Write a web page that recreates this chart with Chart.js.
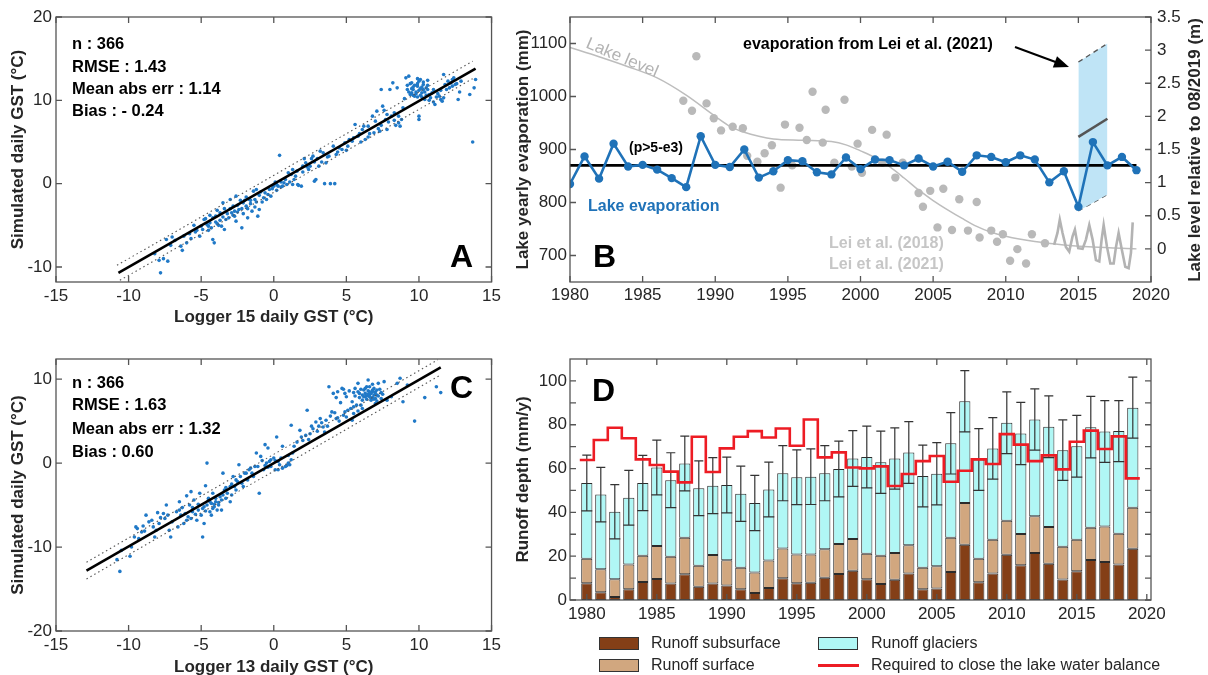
<!DOCTYPE html>
<html>
<head>
<meta charset="utf-8">
<script src="https://cdn.jsdelivr.net/npm/chart.js@4.4.1/dist/chart.umd.min.js"></script>
<style>
  body { margin: 0; background: #fff; width: 1208px; height: 675px; overflow: hidden; position: relative;
         font-family: "Liberation Sans", Arial, sans-serif; color: #262626; }
  canvas { position: absolute; }
  .box { position: absolute; width: 38px; height: 11px; border: 1.5px solid #333; }
  .lab { position: absolute; font-size: 16px; line-height: 20px; white-space: nowrap; }
</style>
</head>
<body>
<canvas id="cA" width="505" height="335" style="left:0;top:0"></canvas>
<canvas id="cB" width="703" height="335" style="left:505px;top:0"></canvas>
<canvas id="cC" width="505" height="345" style="left:0;top:335px"></canvas>
<canvas id="cD" width="703" height="340" style="left:505px;top:335px"></canvas>

<div class="box" style="left:599px;top:637px;background:#843f17"></div>
<div class="lab" style="left:651px;top:633px">Runoff subsurface</div>
<div class="box" style="left:599px;top:659px;background:#d1a77f"></div>
<div class="lab" style="left:651px;top:655px">Runoff surface</div>
<div class="box" style="left:818px;top:637px;background:#b0f7f5"></div>
<div class="lab" style="left:871px;top:633px">Runoff glaciers</div>
<div style="position:absolute;left:818px;top:664px;width:41px;height:3px;background:#ed1c24"></div>
<div class="lab" style="left:871px;top:655px">Required to close the lake water balance</div>

<script>
// ---------- panels A and C : daily ground surface temperature ----------
const gstTicksX = [-15, -10, -5, 0, 5, 10, 15];
const gstTicksA = [-10, 0, 10, 20];
const gstTicksC = [-20, -10, 0, 10];

// [logger, simulated] pairs
const pointsA = [
  [-8.2,-8.4],[-7.9,-9.2],[-7.6,-9.0],[-7.3,-9.3],[-7.8,-10.7],[-7.4,-6.7],[-7.1,-7.4],[-6.4,-7.5],[-6.3,-8.0],
  [-6.0,-7.1],[-5.7,-6.6],[-5.4,-5.8],[-5.1,-6.3],[-4.9,-5.5],[-4.8,-4.3],[-4.5,-5.1],[-4.4,-4.7],[-4.2,-6.7],
  [-4.1,-7.1],[-4.0,-3.9],[-3.7,-3.5],[-3.6,-5.1],[-3.5,-2.3],[-3.3,-4.3],[-3.0,-1.9],[-2.9,-3.5],[-2.8,-2.7],
  [-2.7,-3.9],[-2.6,-1.5],[-2.4,-3.1],[-2.2,-5.3],[-2.1,-2.3],[-1.9,-2.7],[-1.8,-4.1],[-1.7,-1.9],[-1.5,-3.3],
  [-1.4,-0.9],[-1.3,-1.9],[-1.2,-0.7],[-1.1,-3.9],[-1.0,-3.1],[-0.7,-1.7],[-0.6,-1.1],[-0.5,-1.9],[-0.4,-1.3],
  [-0.3,-0.7],[-0.2,-1.5],[0.0,-0.3],[0.2,-0.1],[0.3,-0.3],[0.4,3.4],[0.5,0.2],[0.6,-0.3],[0.8,0.5],[0.9,-0.1],
  [1.1,0.2],[1.2,1.1],[1.3,1.7],[1.5,0.9],[1.7,-0.2],[1.9,-0.3],[2.0,2.1],[2.1,3.0],[2.2,2.5],[2.4,1.7],[2.5,2.1],
  [2.7,3.3],[2.8,0.3],[2.9,0.5],[3.1,2.1],[3.2,3.9],[3.4,3.7],[3.5,0.0],[3.9,0.0],[4.2,0.0],[1.3,-0.1],[1.65,-0.1],
  [3.8,3.3],[4.1,4.5],[4.3,3.5],[4.7,4.1],[4.9,4.9],[5.1,4.5],[5.4,5.1],[5.6,7.1],[5.8,5.7],[6.1,6.5],[6.3,5.3],
  [6.5,6.9],[6.8,8.1],[6.9,6.1],[7.1,8.7],[7.3,6.3],[7.4,11.3],[7.5,9.3],[7.7,7.7],[7.8,8.3],[8.0,11.3],[8.1,8.1],
  [8.2,12.1],[8.5,11.5],[8.6,7.3],[8.7,6.9],[8.8,7.7],[8.9,9.1],[9.1,12.7],[9.2,11.3],[9.3,12.9],[9.4,10.7],
  [9.5,12.1],[9.6,11.3],[9.7,10.5],[9.9,11.7],[10.0,8.1],[10.0,7.7],[10.1,12.5],[10.2,10.9],[10.3,11.9],[10.4,10.1],
  [10.6,11.3],[10.7,10.7],[10.8,10.3],[11.0,11.3],[11.1,9.5],[11.4,10.5],[11.5,10.1],[11.6,9.9],[11.7,13.1],
  [11.9,11.3],[12.2,12.1],[12.3,11.7],[12.4,12.7],[12.5,11.9],[12.7,10.1],[12.9,12.3],[13.5,10.7],[13.8,11.5],
  [13.9,12.5],[13.7,5.0],
  [9.3,11.0],[9.5,11.4],[9.6,10.6],[9.8,11.0],[9.9,12.0],[10.0,11.2],[10.1,10.6],[10.2,11.6],[10.3,12.2],[10.4,11.0],
  [10.5,10.6],[9.7,11.8],[9.4,12.0],[10.6,11.8],[10.9,10.9],[11.2,10.4],[11.3,10.8],[11.8,11.9],[12.0,12.3],
  [12.6,12.0],[12.8,11.0],[9.0,10.2],[9.9,10.4],[10.7,10.0],[11.0,9.8],
  [-4.6,-4.9],[-4.3,-5.3],[-4.0,-4.6],[-3.8,-5.0],[-3.5,-4.0],[-3.2,-3.6],[-3.0,-3.0],[-2.7,-3.3],[-2.5,-2.6],
  [-2.2,-3.0],[-2.0,-2.0],[-1.8,-3.0],[-1.6,-2.4],[-1.3,-2.8],[-3.9,-3.2],[-4.4,-3.8],[-5.0,-5.1],[-5.3,-5.6],
  [-3.4,-5.5],[-2.6,-4.5],[-1.0,-1.4],[-0.8,-2.2],[-0.1,-0.6],[0.2,-0.8],[0.5,-0.4],
  [5.0,4.0],[5.5,5.5],[6.0,5.0],[6.2,6.9],[6.6,6.0],[7.0,7.5],[7.2,6.6],[7.6,8.8],[7.9,7.4],[8.3,8.5],[8.4,7.0],
  [8.6,8.1],[1.0,1.3],[1.6,1.5],[2.3,2.0],[2.6,3.0],[3.0,3.0],[3.3,2.6],[3.7,3.2],[4.5,4.3],
  [-4.7,-4.2],[-4.5,-5.6],[-4.2,-4.1],[-3.9,-4.8],[-3.7,-4.4],[-3.4,-3.0],[-3.1,-4.1],[-2.8,-3.8],[-2.5,-3.4],
  [-2.3,-2.0],[-2.1,-3.6],[-1.9,-1.6],[-1.6,-2.0],[-1.2,-2.2],[-0.9,-1.0],[-5.5,-5.0],[-5.8,-6.0],[-6.2,-6.3],
  [-6.8,-6.8],[-7.0,-6.4],
  [9.6,11.6],[9.8,10.8],[10.0,12.3],[10.1,11.4],[10.2,10.4],[10.3,11.3],[10.5,11.5],[9.5,10.9],[9.2,11.8],
  [9.9,12.6],[10.6,12.4],[11.5,11.2],[12.1,11.5],[12.3,12.5],[11.7,10.3],
  [7.4,7.0],[7.8,6.5],[8.3,7.6],[6.5,5.6],[5.9,6.0],[5.2,5.3],[4.4,3.8],[3.6,2.5],[2.8,2.6],[2.0,1.4],[1.4,0.5],
  [0.7,0.1],[0.1,0.2]
];
const fitA = [[-10.7, -10.7], [13.9, 13.8]];
const dotUpA = [[-10.8, -9.8], [13.7, 14.7]];
const dotLoA = [[-10.6, -11.6], [13.7, 12.6]];

// [logger, simulated] pairs
const pointsC = [
  [-10.8,-11.5],[-10.6,-12.9],[-10.5,-10.4],[-9.9,-11.1],[-9.8,-10.0],[-9.6,-8.8],[-9.5,-7.6],[-9.4,-7.8],[-9.1,-8.2],
  [-8.8,-6.2],[-8.6,-7.0],[-8.3,-7.6],[-8.2,-8.8],[-8.1,-8.0],[-7.9,-7.2],[-7.6,-6.0],[-7.4,-5.0],[-7.3,-6.2],
  [-7.2,-8.0],[-7.1,-8.8],[-7.0,-7.0],[-6.7,-5.8],[-6.6,-7.6],[-6.5,-4.6],[-6.4,-6.2],[-6.2,-7.2],[-6.0,-3.9],
  [-5.9,-6.4],[-5.8,-5.0],[-5.7,-3.4],[-5.6,-5.8],[-5.5,-4.4],[-5.3,-6.8],[-5.2,-5.6],[-5.1,-3.6],[-5.0,-6.2],
  [-4.9,-8.8],[-4.8,-7.2],[-4.8,-5.2],[-4.7,-2.7],[-4.6,0.0],[-4.5,-4.4],[-4.4,-5.8],[-4.3,-4.8],[-4.2,-3.6],
  [-4.1,-5.2],[-4.0,-4.6],[-3.8,-5.0],[-3.7,-4.0],[-3.6,-5.6],[-3.5,-1.2],[-3.4,-3.2],[-3.3,-4.2],[-3.0,-2.8],
  [-2.9,-3.8],[-2.8,-1.6],[-2.7,-2.8],[-2.5,-2.2],[-2.4,-0.2],[-2.3,-1.6],[-2.1,-2.8],[-2.0,-1.2],[-1.8,-2.0],
  [-1.7,-0.8],[-1.5,-1.2],[-1.3,-0.4],[-1.2,1.2],[-1.0,-3.6],[-0.9,0.8],[-0.7,-0.8],[-0.6,2.2],[-0.5,0.0],
  [-0.4,1.8],[-0.3,0.2],[-0.2,-0.4],[0.0,0.6],[0.1,-0.8],[0.2,3.1],[0.3,0.2],[0.4,-0.2],[0.6,2.0],[0.8,-0.4],
  [1.0,0.0],[1.1,-0.2],[1.2,4.5],[1.3,1.2],[1.6,2.5],[1.8,3.9],[2.0,2.7],[2.3,6.3],[2.5,3.5],[2.7,4.1],[2.9,4.9],
  [3.2,5.3],[3.4,4.3],[3.6,5.1],[3.8,9.1],[4.0,6.1],[4.1,8.3],[4.3,5.3],[4.4,8.5],[4.7,8.9],[4.8,5.7],[5.0,7.9],
  [5.1,6.3],[5.4,7.3],[5.5,5.9],[5.6,8.9],[5.7,6.9],[5.8,9.5],[5.9,8.3],[6.1,7.5],[6.2,8.7],[6.3,7.9],[6.4,9.1],
  [6.5,9.9],[6.6,8.1],[6.7,7.7],[6.8,8.5],[6.9,8.9],[7.0,7.1],[7.1,8.1],[7.2,9.5],[7.4,7.7],[7.6,9.7],[7.8,7.5],
  [8.1,7.9],[8.5,9.5],[8.7,10.1],[8.9,7.3],[9.2,9.3],[9.7,5.0],[10.4,7.8],[11.2,9.1],[11.5,8.4],
  [6.3,8.3],[6.4,7.6],[6.5,8.6],[6.6,7.9],[6.7,8.3],[6.8,7.8],[6.9,8.1],[7.0,8.5],[7.1,7.4],[7.2,8.0],[6.6,9.1],
  [6.2,7.9],[7.3,8.8],[7.5,8.2],[6.0,8.8],[5.9,7.8],[6.8,9.4],[7.0,7.7],[5.6,8.0],[5.2,8.6],[4.9,8.3],[4.3,7.8],
  [4.6,7.2],[5.3,6.5],
  [-4.9,-5.4],[-4.6,-5.0],[-4.4,-4.6],[-4.2,-5.4],[-4.0,-4.2],[-3.9,-5.6],[-3.6,-4.4],[-3.2,-3.6],[-5.4,-6.1],
  [-5.7,-6.6],[-6.1,-6.0],[-6.3,-5.3],[-3.0,-4.6],[-2.6,-2.0],[-2.2,-2.4],[-1.9,-1.2],[-1.4,-1.6],[-1.1,-0.4],
  [-0.2,0.4],[0.5,0.6],[0.9,-0.3],[1.2,0.4],[0.3,-0.8],[-0.6,-0.3],[-7.8,-6.5],[-8.4,-6.8],[-9.0,-7.5],
  [1.4,2.0],[1.9,3.1],[2.2,3.3],[2.6,4.4],[3.0,3.8],[3.3,4.8],[3.7,4.4],[3.9,5.6],[4.2,6.0],[4.5,5.0],[5.0,5.5],
  [5.4,5.1],[5.8,6.2],[6.1,6.5],
  [6.4,8.0],[6.5,8.2],[6.7,7.5],[6.8,8.7],[6.9,7.6],[7.0,8.2],[6.6,8.5],[7.1,8.7],[6.3,8.9],[7.4,8.4],[6.1,8.1],
  [5.8,8.5],[5.5,8.4],[4.8,8.8],
  [-5.2,-4.9],[-4.7,-5.7],[-4.5,-4.2],[-4.3,-6.2],[-4.1,-4.9],[-3.8,-4.7],[-3.5,-3.8],[-3.3,-2.9],[-2.9,-2.5],
  [-2.6,-3.2],[-5.6,-5.3],[-6.0,-6.8],[-6.5,-5.6],[-7.5,-6.6],[-8.0,-5.9],[-8.9,-8.1],[-9.3,-9.0],
  [-1.6,-0.6],[-0.8,0.3],[-0.4,-0.5],[0.1,0.3],[0.6,-0.6],[1.0,0.9],[2.4,2.8],[3.1,4.4],[3.5,3.7],[4.4,5.4],
  [4.9,6.1],[5.5,6.7],[6.0,6.9]
];
const fitC = [[-12.9, -12.8], [11.5, 11.4]];
const dotUpC = [[-12.9, -11.8], [11.3, 12.3]];
const dotLoC = [[-12.9, -13.8], [11.4, 10.4]];

// ---------- panel B : lake evaporation and lake level ----------
const yearTicks = [1980, 1985, 1990, 1995, 2000, 2005, 2010, 2015, 2020];
const evapTicks = [700, 800, 900, 1000, 1100];
const levelTicks = [0, 0.5, 1, 1.5, 2, 2.5, 3, 3.5];
const evapYears = [1980,1981,1982,1983,1984,1985,1986,1987,1988,1989,1990,1991,1992,1993,1994,1995,1996,1997,1998,1999,
                   2000,2001,2002,2003,2004,2005,2006,2007,2008,2009,2010,2011,2012,2013,2014,2015,2016,2017,2018,2019];
const lakeEvap = [835,887,845,911,868,871,862,846,829,925,871,867,900,847,859,880,878,857,853,885,
                  863,881,880,870,883,868,877,858,889,886,876,889,881,838,859,792,914,870,886,861];
const evapMean = 870;
const levelYears = [1980,1982,1984,1986,1988,1990,1991,1992,1993,1994,1996,1998,1999,2000,2001,2002,2003,2004,2005,
                    2006,2007,2008,2009,2010,2012,2014,2016,2019];
const lakeLevel = [3.04,2.90,2.75,2.58,2.32,2.00,1.85,1.76,1.70,1.66,1.64,1.62,1.57,1.48,1.38,1.24,1.07,0.89,0.73,
                   0.59,0.46,0.34,0.25,0.19,0.11,0.06,0.03,0.00];
// Lei et al. (2018) evaporation dots [year, mm]
const lei2018 = [[1987.8,992],[1988.4,973],[1988.7,1076],[1989.4,987],[1989.9,959],[1990.4,936],[1991.2,943],[1991.9,940],
  [1992.2,888],[1992.9,877],[1993.4,893],[1993.9,908],[1994.5,828],[1994.8,947],[1995.3,870],[1995.8,941],[1996.3,918],
  [1996.7,1009],[1997.4,913],[1997.6,975],[1998.2,875],[1998.9,994],[1999.4,868],[1999.8,911],[2000.1,856],[2000.8,937],
  [2001.5,875],[2001.8,928],[2002.4,847],[2002.9,875],[2004.0,818],[2004.3,792],[2004.8,822],[2005.3,753],[2005.7,826],
  [2006.3,748],[2006.8,806],[2007.4,747],[2008.0,801],[2008.2,734],[2009.0,747],[2009.4,726],[2009.8,740],[2010.3,690],
  [2010.8,712],[2011.4,685],[2011.8,740],[2012.7,723]];
// Lei et al. (2021) lake level [year, m]
const lei2021 = [[2013.33,0.06],[2013.56,0.24],[2013.72,0.44],[2013.91,0.24],[2014.14,0.03],[2014.37,-0.04],[2014.6,0.19],
  [2014.76,0.29],[2014.99,0.01],[2015.29,0.0],[2015.52,0.14],[2015.75,0.36],[2015.98,0.14],[2016.21,-0.17],[2016.44,-0.19],
  [2016.6,0.14],[2016.74,0.36],[2016.97,0.03],[2017.2,-0.22],[2017.43,-0.22],[2017.59,0.03],[2017.77,0.24],[2018.0,-0.02],
  [2018.23,-0.27],[2018.46,-0.29],[2018.62,-0.06],[2018.74,0.40]];
// evaporation from Lei et al. (2021), mm
const bandYears = [2015, 2017];
const bandTop = [1065, 1100];
const bandMid = [924, 958];
const bandLow = [784, 815];

// ---------- panel D : runoff ----------
const runoffTicks = [0, 20, 40, 60, 80, 100];
const runoffMinor = [0, 10, 20, 30, 40, 50, 60, 70, 80, 90, 100];
const runoffYears = evapYears;
const runoffSub  = [7.6,3.5,1.4,4.9,8.2,9.6,7.5,11.8,6.1,7.5,6.6,4.9,3.2,5.5,9.9,7.6,7.9,10.1,11.9,13.4,
                    9.5,7.3,9.2,12.1,4.9,5.3,12.8,25.2,8.1,12.1,20.6,15.9,21.5,16.5,9.3,13.1,18.3,17.4,16.2,23.4];
const runoffSurf = [11.2,10.5,8.1,11.3,12.0,15.1,12.2,16.6,9.5,13.0,11.6,9.8,9.3,12.5,13.6,13.2,12.9,13.1,13.7,14.4,
                    11.6,12.9,12.3,12.9,9.8,10.1,15.6,19.1,10.7,15.4,15.6,14.2,16.7,16.8,15.0,14.4,14.7,16.2,14.0,18.7];
const runoffGlac = [34.6,34.1,30.8,30.5,33.2,35.8,35.0,33.9,35.4,31.7,34.3,33.8,31.8,32.4,34.4,35.2,35.5,34.7,34.2,36.8,
                    44.2,42.7,43.1,42.3,41.9,42.2,43.1,46.4,45.3,41.7,44.7,45.9,44.2,45.8,44.1,42.7,45.9,43.3,46.9,45.7];
const runoffErr  = [12.7,12.4,12.4,12.5,12.6,12.5,12.5,12.5,12.5,12.8,12.7,12.6,12.6,12.5,12.6,12.5,12.7,12.6,12.7,12.7,
                    14.1,14.2,14.0,14.1,14.1,14.2,14.0,14.0,14.1,14.0,14.1,14.2,14.0,14.1,13.8,14.1,14.0,14.1,13.9,13.9];
const requiredBalance = [63.9,73.0,78.6,73.8,64.2,61.6,58.6,53.7,74.5,58.4,69.2,74.5,77.1,74.2,78.3,70.4,82.4,65.1,67.4,60.5,
                         60.1,61.0,52.0,57.5,63.4,65.7,54.0,59.0,64.2,62.1,75.7,70.9,63.4,66.0,59.6,72.2,77.3,68.9,74.7,55.5];

// ---------- helpers ----------
Chart.defaults.font.family = '"Liberation Sans", Arial, sans-serif';
Chart.defaults.font.size = 17;
Chart.defaults.color = '#262626';

const xy = arr => arr.map(p => ({ x: p[0], y: p[1] }));
const fixedTicks = list => s => { s.ticks = list.map(v => ({ value: v })); };
const plain = v => String(v);

function framePlugin(cfg) {
  return {
    id: 'frame',
    afterDraw(chart) {
      const { ctx, chartArea: a, scales } = chart;
      const L = 6;
      ctx.save();
      ctx.strokeStyle = '#555';
      ctx.lineWidth = 1.3;
      ctx.beginPath();
      (cfg.x || []).forEach(v => {
        const p = scales.x.getPixelForValue(v);
        ctx.moveTo(p, a.bottom); ctx.lineTo(p, a.bottom - L);
        ctx.moveTo(p, a.top); ctx.lineTo(p, a.top + L);
      });
      (cfg.y || []).forEach(v => {
        const p = scales.y.getPixelForValue(v);
        ctx.moveTo(a.left, p); ctx.lineTo(a.left + L, p);
        if (!cfg.y1) { ctx.moveTo(a.right, p); ctx.lineTo(a.right - L, p); }
      });
      (cfg.y1 || []).forEach(v => {
        const p = scales.y1.getPixelForValue(v);
        ctx.moveTo(a.right, p); ctx.lineTo(a.right - L, p);
      });
      ctx.stroke();
      ctx.strokeRect(a.left, a.top, a.right - a.left, a.bottom - a.top);
      ctx.restore();
    }
  };
}

function notesPlugin(items, extra) {
  return {
    id: 'notes',
    afterDraw(chart) {
      const ctx = chart.ctx;
      items.forEach(n => {
        ctx.save();
        ctx.font = n.font;
        ctx.fillStyle = n.color || '#000';
        ctx.textAlign = n.align || 'left';
        ctx.textBaseline = n.base || 'middle';
        ctx.translate(n.x, n.y);
        if (n.rot) ctx.rotate(n.rot * Math.PI / 180);
        ctx.fillText(n.t, 0, 0);
        ctx.restore();
      });
      if (extra) extra(chart);
    }
  };
}

const statFont = 'bold 16.5px "Liberation Sans", Arial, sans-serif';
const letterFont = 'bold 32px "Liberation Sans", Arial, sans-serif';

function gstChart(id, pts, fit, up, lo, yTicks, yMin, yMax, xTitle, pad, xH, titlePad, notes) {
  return new Chart(document.getElementById(id), {
    type: 'scatter',
    data: {
      datasets: [
        { data: xy(fit), showLine: true, borderColor: '#000', borderWidth: 2.6, pointRadius: 0, order: 0 },
        { data: xy(up), showLine: true, borderColor: '#555', borderWidth: 1.1, borderDash: [1.5, 3], pointRadius: 0, order: 1 },
        { data: xy(lo), showLine: true, borderColor: '#555', borderWidth: 1.1, borderDash: [1.5, 3], pointRadius: 0, order: 1 },
        { data: xy(pts), pointRadius: 1.8, pointBorderWidth: 0, pointBackgroundColor: '#2079c7', order: 2 }
      ]
    },
    options: {
      responsive: false, animation: false,
      layout: { padding: pad },
      plugins: { legend: { display: false }, tooltip: { enabled: false } },
      scales: {
        x: {
          type: 'linear', min: -15, max: 15,
          afterBuildTicks: fixedTicks(gstTicksX), afterFit: s => { s.height = xH; },
          grid: { display: false, drawTicks: false }, border: { display: false },
          ticks: { padding: 4, callback: plain },
          title: { display: true, text: xTitle, font: { weight: 'bold' }, padding: { top: 0, bottom: titlePad } }
        },
        y: {
          min: yMin, max: yMax,
          afterBuildTicks: fixedTicks(yTicks), afterFit: s => { s.width = 56; },
          grid: { display: false, drawTicks: false }, border: { display: false },
          ticks: { padding: 4, callback: plain },
          title: { display: true, text: 'Simulated daily GST (°C)', font: { weight: 'bold' }, padding: { top: 8, bottom: 0 } }
        }
      }
    },
    plugins: [framePlugin({ x: gstTicksX, y: yTicks }), notesPlugin(notes)]
  });
}

gstChart('cA', pointsA, fitA, dotUpA, dotLoA, gstTicksA, -11.8, 20, 'Logger 15 daily GST (°C)',
  { left: 0, right: 13, top: 17, bottom: 0 }, 53, 7, [
    { t: 'n : 366', x: 72, y: 44, font: statFont },
    { t: 'RMSE : 1.43', x: 72, y: 67, font: statFont },
    { t: 'Mean abs err : 1.14', x: 72, y: 89, font: statFont },
    { t: 'Bias : - 0.24', x: 72, y: 111, font: statFont },
    { t: 'A', x: 473, y: 267, font: letterFont, align: 'right', base: 'alphabetic' }
  ]);

gstChart('cC', pointsC, fitC, dotUpC, dotLoC, gstTicksC, -20, 12.4, 'Logger 13 daily GST (°C)',
  { left: 0, right: 13, top: 24, bottom: 0 }, 49, 2, [
    { t: 'n : 366', x: 72, y: 48, font: statFont },
    { t: 'RMSE : 1.63', x: 72, y: 70, font: statFont },
    { t: 'Mean abs err : 1.32', x: 72, y: 94, font: statFont },
    { t: 'Bias : 0.60', x: 72, y: 117, font: statFont },
    { t: 'C', x: 473, y: 63, font: letterFont, align: 'right', base: 'alphabetic' }
  ]);

// ---------- panel B ----------
const boldF = s => 'bold ' + s + 'px "Liberation Sans", Arial, sans-serif';
new Chart(document.getElementById('cB'), {
  type: 'scatter',
  data: {
    datasets: [
      { data: evapYears.map((y, i) => ({ x: y, y: lakeEvap[i] })), showLine: true, borderColor: '#1f72b8', borderWidth: 2.6,
        pointRadius: 4.2, pointBorderWidth: 0, pointBackgroundColor: '#1f72b8', yAxisID: 'y', order: 0 },
      { data: [{ x: evapYears[0], y: evapMean }, { x: evapYears[evapYears.length - 1], y: evapMean }], showLine: true,
        borderColor: '#000', borderWidth: 2.6, pointRadius: 0, yAxisID: 'y', order: 1 },
      { data: bandYears.map((y, i) => ({ x: y, y: bandMid[i] })), showLine: true, borderColor: '#555', borderWidth: 2.6,
        pointRadius: 0, yAxisID: 'y', order: 2 },
      { data: xy(lei2018), pointRadius: 4.2, pointBorderWidth: 0, pointBackgroundColor: '#b9b9b9', yAxisID: 'y', order: 3 },
      { data: xy(lei2021), showLine: true, borderColor: '#b3b3b3', borderWidth: 2.6, pointRadius: 0, yAxisID: 'y1', order: 4 },
      { data: bandYears.map((y, i) => ({ x: y, y: bandTop[i] })), showLine: true, borderColor: '#555', borderWidth: 1.3,
        borderDash: [5, 4], pointRadius: 0, yAxisID: 'y', fill: '+1', backgroundColor: '#bfe4f6', order: 5 },
      { data: bandYears.map((y, i) => ({ x: y, y: bandLow[i] })), showLine: true, borderColor: '#555', borderWidth: 1.3,
        borderDash: [5, 4], pointRadius: 0, yAxisID: 'y', order: 5 },
      { data: levelYears.map((y, i) => ({ x: y, y: lakeLevel[i] })), showLine: true, borderColor: '#bdbdbd', borderWidth: 1.5,
        pointRadius: 0, tension: 0.4, cubicInterpolationMode: 'monotone', yAxisID: 'y1', order: 6 }
    ]
  },
  options: {
    responsive: false, animation: false,
    layout: { padding: { left: 0, right: 0, top: 17, bottom: 0 } },
    plugins: { legend: { display: false }, tooltip: { enabled: false } },
    scales: {
      x: {
        type: 'linear', min: 1980, max: 2020,
        afterBuildTicks: fixedTicks(yearTicks), afterFit: s => { s.height = 53; },
        grid: { display: false, drawTicks: false }, border: { display: false },
        ticks: { padding: 3, callback: plain }
      },
      y: {
        position: 'left', min: 650, max: 1150,
        afterBuildTicks: fixedTicks(evapTicks), afterFit: s => { s.width = 65; },
        grid: { display: false, drawTicks: false }, border: { display: false },
        ticks: { padding: 3, callback: plain },
        title: { display: true, text: 'Lake yearly evaporation (mm)', font: { weight: 'bold' }, padding: { top: 8, bottom: 0 } }
      },
      y1: {
        position: 'right', min: -0.5, max: 3.5,
        afterBuildTicks: fixedTicks(levelTicks), afterFit: s => { s.width = 57; },
        grid: { display: false, drawTicks: false }, border: { display: false },
        ticks: { padding: 6, callback: plain }
      }
    }
  },
  plugins: [
    framePlugin({ x: yearTicks, y: evapTicks, y1: levelTicks }),
    notesPlugin([
      { t: '(p>5-e3)', x: 151, y: 148, font: boldF(14), align: 'center' },
      { t: 'Lake evaporation', x: 83, y: 207, font: boldF(16), color: '#1f72b8' },
      { t: 'Lei et al. (2018)', x: 324, y: 244, font: boldF(16), color: '#c6c6c6' },
      { t: 'Lei et al. (2021)', x: 324, y: 265, font: boldF(16), color: '#c6c6c6' },
      { t: 'evaporation from Lei et al. (2021)', x: 238, y: 45, font: boldF(16) },
      { t: 'Lake level', x: 117, y: 58, font: '17px "Liberation Sans", Arial, sans-serif', color: '#b3b3b3', align: 'center', rot: 23 },
      { t: 'Lake level relative to 08/2019 (m)', x: 690, y: 150, font: boldF(17), color: '#262626', align: 'center', rot: -90 },
      { t: 'B', x: 88, y: 267, font: letterFont, base: 'alphabetic' }
    ], chart => {
      const ctx = chart.ctx;
      const x0 = 510, y0 = 47, x1 = 564, y1 = 67;
      const ang = Math.atan2(y1 - y0, x1 - x0);
      ctx.save();
      ctx.strokeStyle = '#000'; ctx.fillStyle = '#000'; ctx.lineWidth = 2;
      ctx.beginPath(); ctx.moveTo(x0, y0);
      ctx.lineTo(x1 - 10 * Math.cos(ang), y1 - 10 * Math.sin(ang)); ctx.stroke();
      ctx.beginPath(); ctx.moveTo(x1, y1);
      ctx.lineTo(x1 - 15 * Math.cos(ang) + 6 * Math.sin(ang), y1 - 15 * Math.sin(ang) - 6 * Math.cos(ang));
      ctx.lineTo(x1 - 15 * Math.cos(ang) - 6 * Math.sin(ang), y1 - 15 * Math.sin(ang) + 6 * Math.cos(ang));
      ctx.closePath(); ctx.fill();
      ctx.restore();
    })
  ]
});

// ---------- panel D ----------
const errorBars = {
  id: 'errorBars',
  afterDatasetDraw(chart, args) {
    if (args.index !== 0) return;
    const { ctx, scales: { x, y } } = chart;
    ctx.save();
    ctx.strokeStyle = '#333'; ctx.lineWidth = 1.2;
    ctx.beginPath();
    runoffYears.forEach((yr, i) => {
      const tot = runoffSub[i] + runoffSurf[i] + runoffGlac[i];
      const px = x.getPixelForValue(yr);
      const lo = y.getPixelForValue(tot - runoffErr[i]);
      const hi = y.getPixelForValue(tot + runoffErr[i]);
      ctx.moveTo(px, lo); ctx.lineTo(px, hi);
      ctx.moveTo(px - 5.5, lo); ctx.lineTo(px + 5.5, lo);
      ctx.moveTo(px - 4.5, hi); ctx.lineTo(px + 4.5, hi);
    });
    ctx.stroke();
    ctx.restore();
  }
};

const barSet = (vals, color) => ({
  type: 'bar', data: runoffYears.map((y, i) => ({ x: y, y: vals[i] })), backgroundColor: color,
  borderColor: '#2b2b2b', borderWidth: 1, borderSkipped: false, stack: 'runoff',
  barPercentage: 1, categoryPercentage: 0.8, order: 1
});

new Chart(document.getElementById('cD'), {
  type: 'bar',
  data: {
    datasets: [
      barSet(runoffSub, '#843f17'),
      barSet(runoffSurf, '#d1a77f'),
      barSet(runoffGlac, '#b0f7f5'),
      { type: 'line', data: runoffYears.flatMap((y, i) => [{ x: y - 0.5, y: requiredBalance[i] }, { x: y + 0.5, y: requiredBalance[i] }]),
        borderColor: '#ed1c24', borderWidth: 2.6, pointRadius: 0, fill: false, order: 0 }
    ]
  },
  options: {
    responsive: false, animation: false,
    layout: { padding: { left: 0, right: 57, top: 24, bottom: 0 } },
    plugins: { legend: { display: false }, tooltip: { enabled: false } },
    scales: {
      x: {
        type: 'linear', min: 1978.8, max: 2020.3, offset: false,
        afterBuildTicks: fixedTicks(yearTicks), afterFit: s => { s.height = 75; },
        grid: { display: false, drawTicks: false }, border: { display: false },
        ticks: { padding: 4, callback: plain }
      },
      y: {
        min: 0, max: 110, stacked: true,
        afterBuildTicks: fixedTicks(runoffTicks), afterFit: s => { s.width = 65; },
        grid: { display: false, drawTicks: false }, border: { display: false },
        ticks: { padding: 3, callback: plain },
        title: { display: true, text: 'Runoff depth (mm/y)', font: { weight: 'bold' }, padding: { top: 8, bottom: 0 } }
      }
    }
  },
  plugins: [
    errorBars,
    framePlugin({ x: yearTicks, y: runoffMinor }),
    notesPlugin([{ t: 'D', x: 87, y: 66, font: letterFont, base: 'alphabetic' }])
  ]
});
</script>
</body>
</html>
